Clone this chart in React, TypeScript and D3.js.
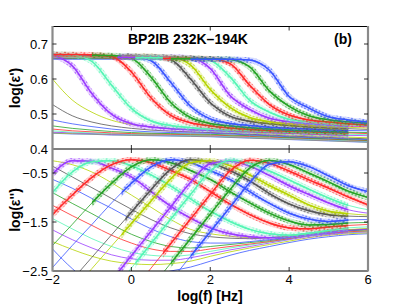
import * as d3 from "d3";

// log10(f / Hz) grid shared by every spectrum
const logF = [-2, -1.5, -1, -0.5, 0, 0.5, 1, 1.5, 2, 2.5, 3, 3.5, 4, 4.5, 5, 5.5, 6];

const BLUE = "#3a55ff";
const YELLOW = "#b5d300";
const PURPLE = "#9a3cff";
const CYAN = "#55f5b5";
const RED = "#ff2a2a";
const GREEN = "#26a326";
const GRAY = "#555555";

// one colour per temperature, coldest (194K) first
const curveColors = [BLUE, YELLOW, PURPLE, CYAN, RED, GREEN, BLUE, GRAY, YELLOW, PURPLE, CYAN,
  RED, GREEN, BLUE, GRAY, YELLOW, PURPLE, CYAN, RED, GREEN, BLUE];

// log f window where the spectrum carries star markers (null = plain line)
const markerFrom = [null, null, null, null, null, null, null, null, null,
  -2, -2, -2, -1, -0.25, -0.15, -0.25, -0.35, 0.1, 0.8, 1.0, 1.5];
const markerTo = [null, null, null, null, null, null, null, null, null,
  5.5, 5.5, 5.5, 5.5, 5.5, 5.5, 5.5, 5.5, 5.5, 6, 6, 6];

// log(eps') per temperature
const e1_00 = [0.445, 0.443, 0.442, 0.440, 0.439, 0.438, 0.437, 0.436, 0.435, 0.433, 0.431, 0.429, 0.427, 0.425, 0.423, 0.421, 0.419];
const e1_01 = [0.446, 0.444, 0.443, 0.441, 0.440, 0.439, 0.438, 0.437, 0.436, 0.434, 0.432, 0.430, 0.428, 0.426, 0.424, 0.422, 0.420];
const e1_02 = [0.448, 0.446, 0.444, 0.442, 0.441, 0.440, 0.439, 0.438, 0.437, 0.435, 0.433, 0.431, 0.429, 0.427, 0.425, 0.423, 0.421];
const e1_03 = [0.452, 0.448, 0.446, 0.444, 0.442, 0.441, 0.440, 0.439, 0.438, 0.436, 0.434, 0.432, 0.430, 0.428, 0.426, 0.424, 0.422];
const e1_04 = [0.457, 0.452, 0.449, 0.446, 0.444, 0.443, 0.442, 0.441, 0.440, 0.438, 0.436, 0.434, 0.432, 0.430, 0.428, 0.426, 0.424];
const e1_05 = [0.466, 0.459, 0.454, 0.450, 0.447, 0.445, 0.444, 0.443, 0.442, 0.440, 0.438, 0.436, 0.433, 0.431, 0.429, 0.427, 0.425];
const e1_06 = [0.483, 0.472, 0.464, 0.457, 0.452, 0.449, 0.447, 0.446, 0.445, 0.443, 0.440, 0.438, 0.435, 0.433, 0.431, 0.429, 0.427];
const e1_07 = [0.527, 0.495, 0.477, 0.466, 0.459, 0.454, 0.451, 0.449, 0.447, 0.445, 0.442, 0.440, 0.437, 0.435, 0.433, 0.431, 0.429];
const e1_08 = [0.600, 0.540, 0.505, 0.482, 0.470, 0.463, 0.458, 0.455, 0.452, 0.449, 0.446, 0.443, 0.440, 0.438, 0.436, 0.434, 0.432];
const e1_09 = [0.669, 0.638, 0.558, 0.499, 0.472, 0.463, 0.458, 0.455, 0.453, 0.451, 0.449, 0.447, 0.445, 0.443, 0.441, 0.439, 0.438];
const e1_10 = [0.671, 0.669, 0.650, 0.582, 0.516, 0.480, 0.467, 0.461, 0.457, 0.454, 0.452, 0.450, 0.448, 0.446, 0.444, 0.442, 0.441];
const e1_11 = [0.670, 0.670, 0.669, 0.664, 0.620, 0.546, 0.496, 0.475, 0.466, 0.460, 0.456, 0.453, 0.451, 0.449, 0.447, 0.446, 0.444];
const e1_12 = [0.668, 0.668, 0.668, 0.667, 0.659, 0.605, 0.532, 0.490, 0.473, 0.466, 0.461, 0.457, 0.454, 0.452, 0.450, 0.448, 0.447];
const e1_13 = [0.6665, 0.6665, 0.6665, 0.666, 0.665, 0.652, 0.590, 0.522, 0.486, 0.473, 0.467, 0.462, 0.459, 0.457, 0.455, 0.453, 0.452];
const e1_14 = [0.665, 0.665, 0.665, 0.665, 0.665, 0.664, 0.655, 0.600, 0.532, 0.494, 0.479, 0.472, 0.467, 0.463, 0.460, 0.458, 0.456];
const e1_15 = [0.664, 0.664, 0.664, 0.664, 0.664, 0.664, 0.662, 0.640, 0.570, 0.519, 0.490, 0.478, 0.472, 0.468, 0.464, 0.462, 0.460];
const e1_16 = [0.6625, 0.6625, 0.6625, 0.6625, 0.6625, 0.6625, 0.6625, 0.660, 0.630, 0.553, 0.513, 0.488, 0.478, 0.472, 0.468, 0.465, 0.464];
const e1_17 = [0.661, 0.661, 0.661, 0.661, 0.661, 0.661, 0.661, 0.6605, 0.653, 0.606, 0.539, 0.505, 0.485, 0.4775, 0.472, 0.4685, 0.466];
const e1_18 = [0.6595, 0.6595, 0.6595, 0.6595, 0.6595, 0.6595, 0.6595, 0.6595, 0.658, 0.644, 0.582, 0.527, 0.497, 0.483, 0.477, 0.472, 0.4685];
const e1_19 = [0.658, 0.658, 0.658, 0.658, 0.658, 0.658, 0.658, 0.658, 0.658, 0.656, 0.6345, 0.566, 0.522, 0.495, 0.4835, 0.4775, 0.4735];
const e1_20 = [0.6565, 0.6565, 0.6565, 0.6565, 0.6565, 0.6565, 0.6565, 0.6565, 0.6565, 0.6565, 0.654, 0.625, 0.550, 0.517, 0.492, 0.483, 0.477];

// log(eps'') per temperature
const e2_00 = [-2.05, -2.45, -2.75, -2.8, -2.7, -2.6, -2.5, -2.42, -2.3, -2.18, -2.08, -2.0, -1.92, -1.85, -1.8, -1.76, -1.74];
const e2_01 = [-1.90, -2.06, -2.2, -2.3, -2.35, -2.37, -2.35, -2.3, -2.2, -2.11, -2.03, -1.96, -1.89, -1.82, -1.77, -1.74, -1.72];
const e2_02 = [-1.66, -1.86, -2.03, -2.17, -2.25, -2.28, -2.28, -2.23, -2.15, -2.07, -2.0, -1.93, -1.86, -1.79, -1.75, -1.72, -1.70];
const e2_03 = [-1.43, -1.64, -1.84, -2.0, -2.12, -2.18, -2.2, -2.17, -2.1, -2.03, -1.97, -1.91, -1.85, -1.78, -1.74, -1.71, -1.69];
const e2_04 = [-1.16, -1.37, -1.57, -1.77, -1.93, -2.05, -2.1, -2.1, -2.05, -2.0, -1.95, -1.9, -1.84, -1.77, -1.73, -1.7, -1.68];
const e2_05 = [-0.90, -1.12, -1.33, -1.55, -1.75, -1.90, -2.0, -2.03, -2.0, -1.96, -1.92, -1.88, -1.82, -1.76, -1.71, -1.68, -1.66];
const e2_06 = [-0.63, -0.81, -1.02, -1.22, -1.44, -1.64, -1.80, -1.90, -1.93, -1.93, -1.9, -1.86, -1.81, -1.75, -1.70, -1.67, -1.65];
const e2_07 = [-0.36, -0.58, -0.80, -1.02, -1.24, -1.45, -1.62, -1.74, -1.8, -1.83, -1.84, -1.82, -1.78, -1.73, -1.69, -1.66, -1.64];
const e2_08 = [-0.25, -0.33, -0.48, -0.70, -0.95, -1.20, -1.45, -1.65, -1.74, -1.79, -1.82, -1.82, -1.79, -1.74, -1.69, -1.655, -1.635];
const e2_09 = [-0.52, -0.25, -0.26, -0.40, -0.58, -0.88, -1.18, -1.42, -1.62, -1.74, -1.80, -1.82, -1.81, -1.77, -1.72, -1.67, -1.65];
const e2_10 = [-0.90, -0.48, -0.27, -0.25, -0.35, -0.54, -0.77, -1.03, -1.28, -1.49, -1.65, -1.74, -1.77, -1.73, -1.67, -1.62, -1.60];
const e2_11 = [-1.35, -0.95, -0.59, -0.33, -0.23, -0.29, -0.45, -0.63, -0.88, -1.13, -1.35, -1.52, -1.62, -1.64, -1.60, -1.57, -1.55];
const e2_12 = [-1.98, -1.55, -1.11, -0.71, -0.375, -0.23, -0.29, -0.45, -0.63, -0.88, -1.11, -1.32, -1.48, -1.56, -1.55, -1.52, -1.51];
const e2_13 = [-2.43, -1.98, -1.55, -1.11, -0.71, -0.375, -0.23, -0.29, -0.45, -0.63, -0.88, -1.12, -1.32, -1.44, -1.49, -1.46, -1.45];
const e2_14 = [-3.14, -2.68, -2.22, -1.76, -1.30, -0.84, -0.42, -0.23, -0.29, -0.45, -0.66, -0.92, -1.13, -1.27, -1.35, -1.38, -1.39];
const e2_15 = [-3.37, -2.91, -2.45, -1.99, -1.53, -1.07, -0.62, -0.29, -0.25, -0.35, -0.54, -0.755, -0.95, -1.15, -1.28, -1.33, -1.36];
const e2_16 = [-4.2, -3.7, -3.2, -2.69, -2.19, -1.69, -1.19, -0.69, -0.31, -0.26, -0.36, -0.55, -0.76, -0.94, -1.11, -1.25, -1.32];
const e2_17 = [-4.7, -4.2, -3.7, -2.94, -2.44, -1.94, -1.44, -0.94, -0.46, -0.24, -0.30, -0.46, -0.64, -0.83, -1.01, -1.16, -1.25];
const e2_18 = [-4.94, -4.44, -3.94, -3.44, -2.94, -2.44, -1.94, -1.44, -0.94, -0.46, -0.24, -0.30, -0.46, -0.64, -0.81, -0.99, -1.15];
const e2_19 = [-5.34, -4.84, -4.34, -3.84, -3.34, -2.84, -2.34, -1.84, -1.34, -0.84, -0.40, -0.245, -0.325, -0.50, -0.68, -0.87, -1.0];
const e2_20 = [-5.7, -5.2, -4.7, -4.2, -3.7, -3.2, -2.7, -2.20, -1.70, -1.20, -0.70, -0.32, -0.27, -0.37, -0.56, -0.76, -0.88];

const epsReal = [e1_00, e1_01, e1_02, e1_03, e1_04, e1_05, e1_06, e1_07, e1_08, e1_09, e1_10,
  e1_11, e1_12, e1_13, e1_14, e1_15, e1_16, e1_17, e1_18, e1_19, e1_20];
const epsImag = [e2_00, e2_01, e2_02, e2_03, e2_04, e2_05, e2_06, e2_07, e2_08, e2_09, e2_10,
  e2_11, e2_12, e2_13, e2_14, e2_15, e2_16, e2_17, e2_18, e2_19, e2_20];

const topTicks = [0.7, 0.6, 0.5, 0.4];
const botTicks = [-0.5, -1.5, -2.5];
const xTicks = [-2, 0, 2, 4, 6];

const FONT = "Liberation Sans, Arial, Helvetica, sans-serif";

const x = d3.scaleLinear().domain([-2, 6]).range([52.5, 368]);
const yTop = d3.scaleLinear().domain([0.4, 0.75]).range([149, 26.5]);
const yBot = d3.scaleLinear().domain([-2.5, 0]).range([271, 148.5]);

const lineTop = d3.line<number>().x((_, i) => x(logF[i])).y((d) => yTop(d)).curve(d3.curveMonotoneX);
const lineBot = d3.line<number>().x((_, i) => x(logF[i])).y((d) => yBot(d)).curve(d3.curveMonotoneX);

const palette = [BLUE, YELLOW, PURPLE, CYAN, RED, GREEN, GRAY];
const patId = (c: string) => "star" + c.slice(1);

function Panel(props: { data: number[][]; line: d3.Line<number>; clip: string }) {
  const { data, line, clip } = props;
  return (
    <g clipPath={`url(#${clip})`}>
      {data.map((d, i) => (
        <path key={"l" + i} d={line(d) || ""} fill="none" stroke={curveColors[i]} strokeWidth={0.8} />
      ))}
      {data.map((d, i) =>
        markerFrom[i] === null ? null : (
          <g key={"m" + i} clipPath={`url(#win${i})`}>
            <path d={line(d) || ""} fill="none" stroke={`url(#${patId(curveColors[i])})`} strokeWidth={5.6} />
            <path d={line(d) || ""} fill="none" stroke={curveColors[i]} strokeWidth={1.5} />
          </g>
        )
      )}
    </g>
  );
}

export default function App() {
  const left = 52.5, right = 368;
  return (
    <svg width={407} height={306} style={{ position: "absolute", left: 0, top: 0, background: "#fff" }} fontFamily={FONT}>
      <defs>
        <clipPath id="clipTop"><rect x={left} y={26.5} width={right - left} height={122.5} /></clipPath>
        <clipPath id="clipBot"><rect x={left} y={148.5} width={right - left} height={122.5} /></clipPath>
        {markerFrom.map((a, i) =>
          a === null ? null : (
            <clipPath key={i} id={`win${i}`}>
              <rect x={x(a)} y={0} width={x(markerTo[i] as number) - x(a)} height={306} />
            </clipPath>
          )
        )}
        {palette.map((c) => (
          <pattern key={c} id={patId(c)} width={3.6} height={3.6} patternUnits="userSpaceOnUse" patternTransform="rotate(25)">
            <path d="M0.2,1.8H3.4M1.8,0.2V3.4M0.6,0.6L3.0,3.0M0.6,3.0L3.0,0.6" stroke={c} strokeWidth={0.7} opacity={0.75} />
          </pattern>
        ))}
      </defs>

      <Panel data={epsReal} line={lineTop} clip="clipTop" />
      <Panel data={epsImag} line={lineBot} clip="clipBot" />

      {/* frame */}
      <line x1={left} x2={right} y1={26.5} y2={26.5} stroke="#000" strokeWidth={1} />
      <line x1={left} x2={right} y1={149} y2={149} stroke="#000" strokeWidth={1} />
      <line x1={left} x2={right} y1={271} y2={271} stroke="#000" strokeWidth={1} />
      <line x1={left} x2={left} y1={26} y2={271.5} stroke="#8a8a8a" strokeWidth={2.2} />
      <line x1={right} x2={right} y1={26} y2={271.5} stroke="#8a8a8a" strokeWidth={2.2} />

      {/* x ticks on both panels */}
      {[0, 2, 4].map((t) => (
        <g key={"xt" + t} stroke="#000" strokeWidth={0.8}>
          <line x1={x(t)} x2={x(t)} y1={26.5} y2={30.5} />
          <line x1={x(t)} x2={x(t)} y1={149} y2={145} />
          <line x1={x(t)} x2={x(t)} y1={149} y2={153} />
          <line x1={x(t)} x2={x(t)} y1={271} y2={267} />
        </g>
      ))}
      {[0.7, 0.6, 0.5].map((t) => (
        <g key={"yt" + t} stroke="#000" strokeWidth={0.8}>
          <line x1={left} x2={left + 4} y1={yTop(t)} y2={yTop(t)} />
          <line x1={right - 4} x2={right} y1={yTop(t)} y2={yTop(t)} />
        </g>
      ))}
      {[-0.5, -1.5].map((t) => (
        <g key={"yb" + t} stroke="#000" strokeWidth={0.8}>
          <line x1={left} x2={left + 4} y1={yBot(t)} y2={yBot(t)} />
          <line x1={right - 4} x2={right} y1={yBot(t)} y2={yBot(t)} />
        </g>
      ))}

      {/* tick labels */}
      <g fontSize={13} fill="#000">
        {topTicks.map((t) => (
          <text key={"tl" + t} x={48} y={yTop(t) + 4.6} textAnchor="end">{t.toFixed(1)}</text>
        ))}
        {botTicks.map((t) => (
          <text key={"bl" + t} x={48} y={yBot(t) + 4.6} textAnchor="end">{"\u2212" + Math.abs(t).toFixed(1)}</text>
        ))}
        {xTicks.map((t) => (
          <text key={"xl" + t} x={x(t)} y={284} textAnchor="middle">{t < 0 ? "\u2212" + Math.abs(t) : String(t)}</text>
        ))}
      </g>

      {/* titles */}
      <g fontWeight="bold" fontSize={14} fill="#000">
        <text x={128} y={44}>BP2IB 232K–194K</text>
        <text x={334} y={44}>(b)</text>
        <text x={210} y={300.5} textAnchor="middle">log(f) [Hz]</text>
        <text transform="translate(20,88) rotate(-90)" textAnchor="middle">log(ε')</text>
        <text transform="translate(20,210) rotate(-90)" textAnchor="middle">log(ε'')</text>
      </g>
    </svg>
  );
}
